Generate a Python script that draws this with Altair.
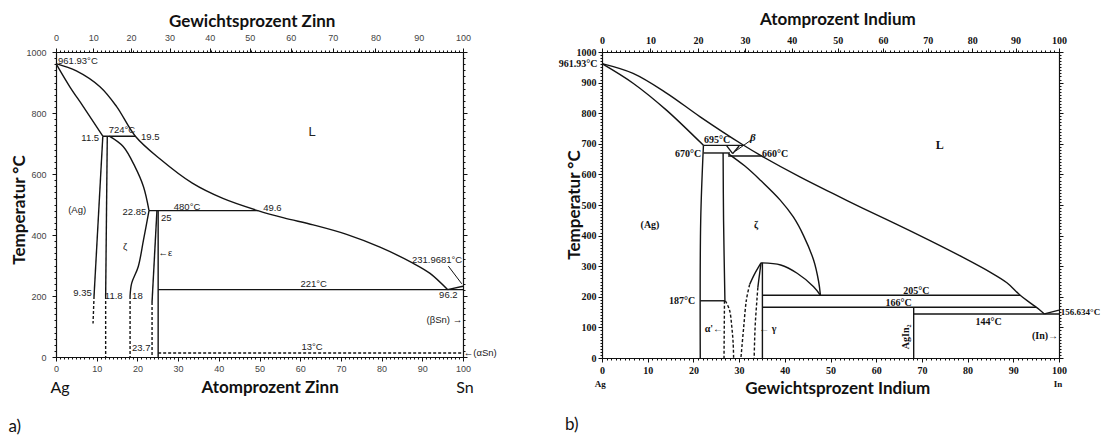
import altair as alt
import pandas as pd

# ---------------- layout (chart coordinates, page minus 8px margin) ----------------
W, H = 1095, 429
AX, AY = [48, 455], [349, 44]      # panel a plot range
BX, BY = [594, 1051], [350, 44]    # panel b plot range

# ---------------- panel a: Ag-Sn (x = Atomprozent Zinn, y = Temperatur) ----------------
a_liquidus_x = [0, 5, 10.8, 14.9, 19.5, 25.5, 33.5, 41.0, 49.6, 56.0, 63.2, 71.4, 79.6, 87.8, 91.9, 96.2]
a_liquidus_T = [961.93, 938, 886, 821, 724, 650, 570, 520, 480, 456, 433, 402, 360, 307, 274, 221]
a_solidus_x = [0, 3.4, 6.7, 11.5]
a_solidus_T = [961.93, 886, 821, 724]
a_agsolvus_x = [11.5, 9.35]
a_agsolvus_T = [724, 200]
a_zeta_left_x = [12.6, 12.2]
a_zeta_left_T = [724, 200]
a_zeta_right_x = [13.1, 16.5, 19.4, 21.5, 22.85]
a_zeta_right_T = [724, 690, 624, 558, 480]
a_zeta_low_x = [22.85, 21.5, 20.2, 18.6, 18.2]
a_zeta_low_T = [480, 384, 296, 242, 200]
a_eps_left_x = [24.8, 23.6]
a_eps_left_T = [480, 180]
a_eps_right_x = [25.1, 25.1]
a_eps_right_T = [480, 0]
a_h724_x = [11.5, 19.5]
a_h724_T = [724, 724]
a_h480_x = [22.85, 49.6]
a_h480_T = [480, 480]
a_h221_x = [25.1, 100]
a_h221_T = [221, 221]
a_sn_liq_x = [96.2, 100]
a_sn_liq_T = [221, 231.97]
a_leader_x = [96.4, 99.7]
a_leader_T = [298, 240]
# dashed (uncertain) boundaries
a_agsolvus_d_x = [9.35, 9.1]
a_agsolvus_d_T = [200, 110]
a_zeta_left_d_x = [12.2, 12.2]
a_zeta_left_d_T = [200, 0]
a_zeta_low_d_x = [18.2, 18.2]
a_zeta_low_d_T = [200, 0]
a_eps_left_d_x = [23.6, 23.6]
a_eps_left_d_T = [180, 0]
a_h13_x = [25.1, 100]
a_h13_T = [13, 13]

# top axis of panel a: Gewichtsprozent labels at their Atomprozent positions
a_top_pos = [0, 9.17, 18.45, 27.9, 37.75, 47.6, 57.7, 68.0, 78.5, 89.1, 100]
a_top_lbl = ["0", "10", "20", "30", "40", "50", "60", "70", "80", "90", "100"]

# annotations panel a
a_left_text = ["961.93°C", "19.5", "49.6", "25", "←ε", "11.8", "18", "←(αSn)"]
a_left_x = [0.5, 20.9, 50.9, 25.8, 25.2, 12.0, 18.7, 100.2]
a_left_T = [972, 721, 490, 456, 341, 200, 200, 13]
a_right_text = ["11.5", "22.85", "9.35", "23.7", "231.9681°C", "(βSn) →"]
a_right_x = [10.6, 22.2, 8.8, 23.2, 99.8, 99.8]
a_right_T = [718, 475, 210, 30, 318, 121]
a_center_text = ["724°C", "(Ag)", "480°C", "ζ", "221°C", "13°C", "96.2"]
a_center_x = [16.2, 5.2, 32.2, 17.0, 63.3, 62.9, 96.4]
a_center_T = [744, 482, 492, 361, 239, 33, 203]

# ---------------- panel b: Ag-In (x = Gewichtsprozent Indium) ----------------
b_liquidus_x = [0, 6.8, 14.2, 21.4, 30.9, 34.6, 43.3, 50.6, 57.0, 64.5, 72.0, 79.1, 85.0, 88.6, 91.5, 94.0, 95.8, 96.8]
b_liquidus_T = [961.93, 930, 865, 789, 696, 663, 592, 537, 490, 437, 382, 328, 280, 246, 205, 177, 157, 144]
b_solidus_x = [0, 6.8, 14.1, 22.2]
b_solidus_T = [961.93, 898, 810, 695]
b_h695_x = [22.2, 30.9]
b_h695_T = [695, 695]
b_h670_x = [22.2, 28.0]
b_h670_T = [670, 670]
b_h660_x = [27.6, 34.9]
b_h660_T = [660, 660]
b_agsolvus_x = [22.2, 21.6, 21.5]
b_agsolvus_T = [695, 450, 0]
b_zeta_left_x = [26.5, 26.6, 26.9]
b_zeta_left_T = [670, 450, 187]
b_h187_x = [21.5, 26.9]
b_h187_T = [187, 187]
b_zeta_up_x = [27.6, 31.2, 34.6, 39.0, 41.9, 44.1, 46.3, 47.4, 47.8]
b_zeta_up_T = [668, 628, 582, 516, 460, 400, 320, 250, 205]
b_zeta_low_x = [34.8, 39.1, 42.7, 46.3, 47.8]
b_zeta_low_T = [311, 304, 277, 233, 205]
b_gamma_right_x = [35.1, 35.1]
b_gamma_right_T = [311, 0]
b_gamma_outer_x = [34.8, 33.4, 32.3]
b_gamma_outer_T = [311, 275, 240]
b_gamma_inner_x = [34.8, 34.4, 34.1]
b_gamma_inner_T = [311, 266, 230]
b_h205_x = [35.1, 91.5]
b_h205_T = [205, 205]
b_h166_x = [35.1, 95.0]
b_h166_T = [166, 166]
b_h144_x = [68.2, 100]
b_h144_T = [144, 144]
b_agin2_x = [68.2, 68.2]
b_agin2_T = [166, 0]
b_in_liq_x = [96.8, 100]
b_in_liq_T = [144, 156.634]
b_beta1_x = [27.3, 28.6]
b_beta1_T = [693, 668]
b_beta2_x = [30.0, 28.6]
b_beta2_T = [693, 668]
b_leader_x = [32.6, 29.2]
b_leader_T = [712, 676]
# dashed
b_gamma_outer_d_x = [32.3, 31.6, 31.0, 30.4]
b_gamma_outer_d_T = [240, 190, 100, 0]
b_gamma_inner_d_x = [34.1, 33.9, 33.5, 33.3]
b_gamma_inner_d_T = [230, 190, 100, 0]
b_alpha1_d_x = [26.8, 26.7]
b_alpha1_d_T = [187, 0]
b_alpha2_d_x = [27.0, 27.9, 28.4, 28.7, 28.8]
b_alpha2_d_T = [187, 157, 102, 48, 0]

# top axis of panel b: Atomprozent labels at their Gewichtsprozent positions
b_top_pos = [0, 10.6, 21.0, 31.3, 41.5, 51.6, 61.5, 71.3, 81.0, 90.5, 100]
b_top_lbl = ["0", "10", "20", "30", "40", "50", "60", "70", "80", "90", "100"]

b_left_text = ["660°C", "← γ"]
b_left_x = [35.0, 34.4]
b_left_T = [667, 95]
b_right_text = ["961.93°C", "670°C", "187°C", "α'←", "(In)→"]
b_right_x = [-1.0, 21.7, 20.4, 26.5, 99.8]
b_right_T = [962, 667, 186, 95, 72]
b_center_text = ["695°C", "(Ag)", "ζ", "205°C", "166°C", "144°C"]
b_center_x = [25.2, 10.5, 33.7, 68.8, 64.9, 84.6]
b_center_T = [712, 435, 435, 220, 181, 119]

# ---------------- helpers ----------------
def xsc(r):
    return alt.Scale(domain=[0, 100], range=r, nice=False, zero=False)

def ysc(r):
    return alt.Scale(domain=[0, 1000], range=r, nice=False, zero=False)

def curves(pairs):
    rows = []
    for k, (xs, ts) in enumerate(pairs):
        for i, (x, t) in enumerate(zip(xs, ts)):
            rows.append({"x": x, "T": t, "seg": k, "o": i})
    return pd.DataFrame(rows)

def line_layer(df, xr, yr, dashed=False, width=1.4):
    kw = dict(color="#141414", strokeWidth=width, clip=False, interpolate="catmull-rom")
    if dashed:
        kw["strokeDash"] = [3, 2]
    return alt.Chart(df).mark_line(**kw).encode(
        x=alt.X("x:Q", scale=xsc(xr), axis=None),
        y=alt.Y("T:Q", scale=ysc(yr), axis=None),
        detail="seg:N",
        order="o:Q",
    )

def text_layer(texts, xs, ts, xr, yr, align, font, size, weight="normal", angle=0,
               color="#222222", style="normal"):
    df = pd.DataFrame({"text": texts, "x": xs, "T": ts})
    kw = dict(align=align, baseline="middle", font=font, fontSize=size,
              fontWeight=weight, color=color, fontStyle=style)
    if angle:
        kw["angle"] = angle
    return alt.Chart(df).mark_text(**kw).encode(
        x=alt.X("x:Q", scale=xsc(xr), axis=None),
        y=alt.Y("T:Q", scale=ysc(yr), axis=None),
        text="text:N",
    )

dummy = pd.DataFrame({"x": [50], "T": [500]})

def axis_layer(xr, yr, xaxis, yaxis):
    return alt.Chart(dummy).mark_point(opacity=0).encode(
        x=alt.X("x:Q", scale=xsc(xr), axis=xaxis),
        y=alt.Y("T:Q", scale=ysc(yr), axis=yaxis),
    )

def ax(orient, offset, values, labels=True, tick=4, pad=3, font="Liberation Sans",
       size=9, weight="normal", color="#444444", domain=True, expr=None):
    kw = dict(orient=orient, offset=offset, values=values, labels=labels, tickSize=tick,
              title=None, grid=False, domain=domain, domainColor="#111111", domainWidth=1.2,
              tickColor="#111111", tickWidth=1, labelOverlap=False, labelFlush=False,
              format="d")
    if labels:
        kw.update(labelPadding=pad, labelFont=font, labelFontSize=size,
                  labelFontWeight=weight, labelColor=color)
    if expr:
        kw["labelExpr"] = expr
    return alt.Axis(**kw)

def label_expr(pos, lbl):
    arr_l = "[" + ",".join("'%s'" % s for s in lbl) + "]"
    arr_p = "[" + ",".join(str(p) for p in pos) + "]"
    return "%s[indexof(%s, datum.value)]" % (arr_l, arr_p)

# ---------------- panel a layers ----------------
a_solid = curves([(a_liquidus_x, a_liquidus_T), (a_solidus_x, a_solidus_T),
                  (a_agsolvus_x, a_agsolvus_T), (a_zeta_left_x, a_zeta_left_T),
                  (a_zeta_right_x, a_zeta_right_T), (a_zeta_low_x, a_zeta_low_T),
                  (a_eps_left_x, a_eps_left_T), (a_eps_right_x, a_eps_right_T),
                  (a_h724_x, a_h724_T), (a_h480_x, a_h480_T), (a_h221_x, a_h221_T),
                  (a_sn_liq_x, a_sn_liq_T)])
a_thin = curves([(a_leader_x, a_leader_T)])
a_dash = curves([(a_agsolvus_d_x, a_agsolvus_d_T), (a_zeta_left_d_x, a_zeta_left_d_T),
                 (a_zeta_low_d_x, a_zeta_low_d_T), (a_eps_left_d_x, a_eps_left_d_T),
                 (a_h13_x, a_h13_T)])

AOFF = dict(bottom=AY[0] - H, top=-AY[1], left=-AX[0], right=AX[1] - W)
a_layers = [
    axis_layer(AX, AY,
               ax("bottom", AOFF["bottom"], list(range(0, 101, 10)), pad=3),
               ax("left", AOFF["left"], list(range(0, 1001, 200)), pad=6)),
    axis_layer(AX, AY,
               ax("bottom", AOFF["bottom"], list(range(0, 101)), labels=False, tick=2, domain=False),
               ax("left", AOFF["left"], list(range(0, 1001, 20)), labels=False, tick=2, domain=False)),
    axis_layer(AX, AY,
               ax("top", AOFF["top"], a_top_pos, pad=6, expr=label_expr(a_top_pos, a_top_lbl)),
               ax("right", AOFF["right"], list(range(0, 1001, 200)), labels=False)),
    axis_layer(AX, AY,
               ax("top", AOFF["top"], list(range(0, 101)), labels=False, tick=2, domain=False),
               ax("right", AOFF["right"], list(range(0, 1001, 20)), labels=False, tick=2, domain=False)),
    line_layer(a_solid, AX, AY),
    line_layer(a_thin, AX, AY, width=1),
    line_layer(a_dash, AX, AY, dashed=True),
    text_layer(a_left_text, a_left_x, a_left_T, AX, AY, "left", "Liberation Sans", 9.5),
    text_layer(a_right_text, a_right_x, a_right_T, AX, AY, "right", "Liberation Sans", 9.5),
    text_layer(a_center_text, a_center_x, a_center_T, AX, AY, "center", "Liberation Sans", 9.5),
    text_layer(["L"], [62.9], [738], AX, AY, "center", "Liberation Sans", 13),
    text_layer(["Gewichtsprozent Zinn", "Atomprozent Zinn"], [48.2, 52.6], [1098, -102],
               AX, AY, "center", "Lato", 17, weight="bold", color="#111111"),
    text_layer(["Ag", "Sn"], [1.0, 100.5], [-102, -102], AX, AY, "center", "Lato", 16,
               color="#111111"),
    text_layer(["Temperatur °C"], [-8.9], [482], AX, AY, "center", "Lato", 17,
               weight="bold", angle=270, color="#111111"),
    text_layer(["a)"], [-11.7], [-229], AX, AY, "left", "Lato", 17, color="#111111"),
]

# ---------------- panel b layers ----------------
b_solid = curves([(b_liquidus_x, b_liquidus_T), (b_solidus_x, b_solidus_T),
                  (b_h695_x, b_h695_T), (b_h670_x, b_h670_T), (b_h660_x, b_h660_T),
                  (b_agsolvus_x, b_agsolvus_T), (b_zeta_left_x, b_zeta_left_T),
                  (b_h187_x, b_h187_T), (b_zeta_up_x, b_zeta_up_T),
                  (b_zeta_low_x, b_zeta_low_T), (b_gamma_right_x, b_gamma_right_T),
                  (b_gamma_outer_x, b_gamma_outer_T), (b_gamma_inner_x, b_gamma_inner_T),
                  (b_h205_x, b_h205_T), (b_h166_x, b_h166_T), (b_h144_x, b_h144_T),
                  (b_agin2_x, b_agin2_T), (b_in_liq_x, b_in_liq_T),
                  (b_beta1_x, b_beta1_T), (b_beta2_x, b_beta2_T)])
b_thin = curves([(b_leader_x, b_leader_T)])
b_dash = curves([(b_gamma_outer_d_x, b_gamma_outer_d_T), (b_gamma_inner_d_x, b_gamma_inner_d_T),
                 (b_alpha1_d_x, b_alpha1_d_T), (b_alpha2_d_x, b_alpha2_d_T)])

BOFF = dict(bottom=BY[0] - H, top=-BY[1], left=-BX[0], right=BX[1] - W)
SERIF = "Liberation Serif"
b_layers = [
    axis_layer(BX, BY,
               ax("bottom", BOFF["bottom"], list(range(0, 101, 10)), pad=3, font=SERIF,
                  size=10, weight="bold", color="#111111"),
               ax("left", BOFF["left"], list(range(0, 1001, 100)), pad=2, font=SERIF,
                  size=10, weight="bold", color="#111111")),
    axis_layer(BX, BY,
               ax("bottom", BOFF["bottom"], list(range(0, 101)), labels=False, tick=2, domain=False),
               ax("left", BOFF["left"], list(range(0, 1001, 10)), labels=False, tick=2, domain=False)),
    axis_layer(BX, BY,
               ax("top", BOFF["top"], b_top_pos, pad=3, font=SERIF, size=10, weight="bold",
                  color="#111111", expr=label_expr(b_top_pos, b_top_lbl)),
               ax("right", BOFF["right"], list(range(0, 1001, 100)), labels=False)),
    axis_layer(BX, BY,
               ax("top", BOFF["top"], list(range(0, 101)), labels=False, tick=2, domain=False),
               ax("right", BOFF["right"], list(range(0, 1001, 10)), labels=False, tick=2, domain=False)),
    line_layer(b_solid, BX, BY),
    line_layer(b_thin, BX, BY, width=1),
    line_layer(b_dash, BX, BY, dashed=True),
    text_layer(b_left_text, b_left_x, b_left_T, BX, BY, "left", SERIF, 10, weight="bold", color="#111111"),
    text_layer(["156.634°C"], [100.4], [151], BX, BY, "left", SERIF, 9, weight="bold", color="#111111"),
    text_layer(b_right_text, b_right_x, b_right_T, BX, BY, "right", SERIF, 10, weight="bold", color="#111111"),
    text_layer(b_center_text, b_center_x, b_center_T, BX, BY, "center", SERIF, 10, weight="bold", color="#111111"),
    text_layer(["β"], [33.0], [719], BX, BY, "center", SERIF, 11, weight="bold", style="italic", color="#111111"),
    text_layer(["L"], [73.9], [696], BX, BY, "center", SERIF, 12, weight="bold", color="#111111"),
    text_layer(["AgIn₂"], [66.5], [69], BX, BY, "center", SERIF, 10, weight="bold", angle=270, color="#111111"),
    text_layer(["Ag", "In"], [-0.4, 99.8], [-85, -85], BX, BY, "center", SERIF, 9, weight="bold", color="#111111"),
    text_layer(["Atomprozent Indium", "Gewichtsprozent Indium"], [51.6, 51.6], [1105, -101],
               BX, BY, "center", "Lato", 17, weight="bold", color="#111111"),
    text_layer(["Temperatur °C"], [-5.9], [500], BX, BY, "center", "Lato", 17,
               weight="bold", angle=270, color="#111111"),
    text_layer(["b)"], [-6.6], [-219], BX, BY, "center", "Lato", 17, color="#111111"),
]

chart = (
    alt.layer(*(a_layers + b_layers))
    .resolve_scale(x="independent", y="independent")
    .properties(width=W, height=H, padding=0, autosize="none")
    .configure_view(stroke=None)
)

chart.save("out.html", embed_options={"renderer": "svg", "actions": False})
